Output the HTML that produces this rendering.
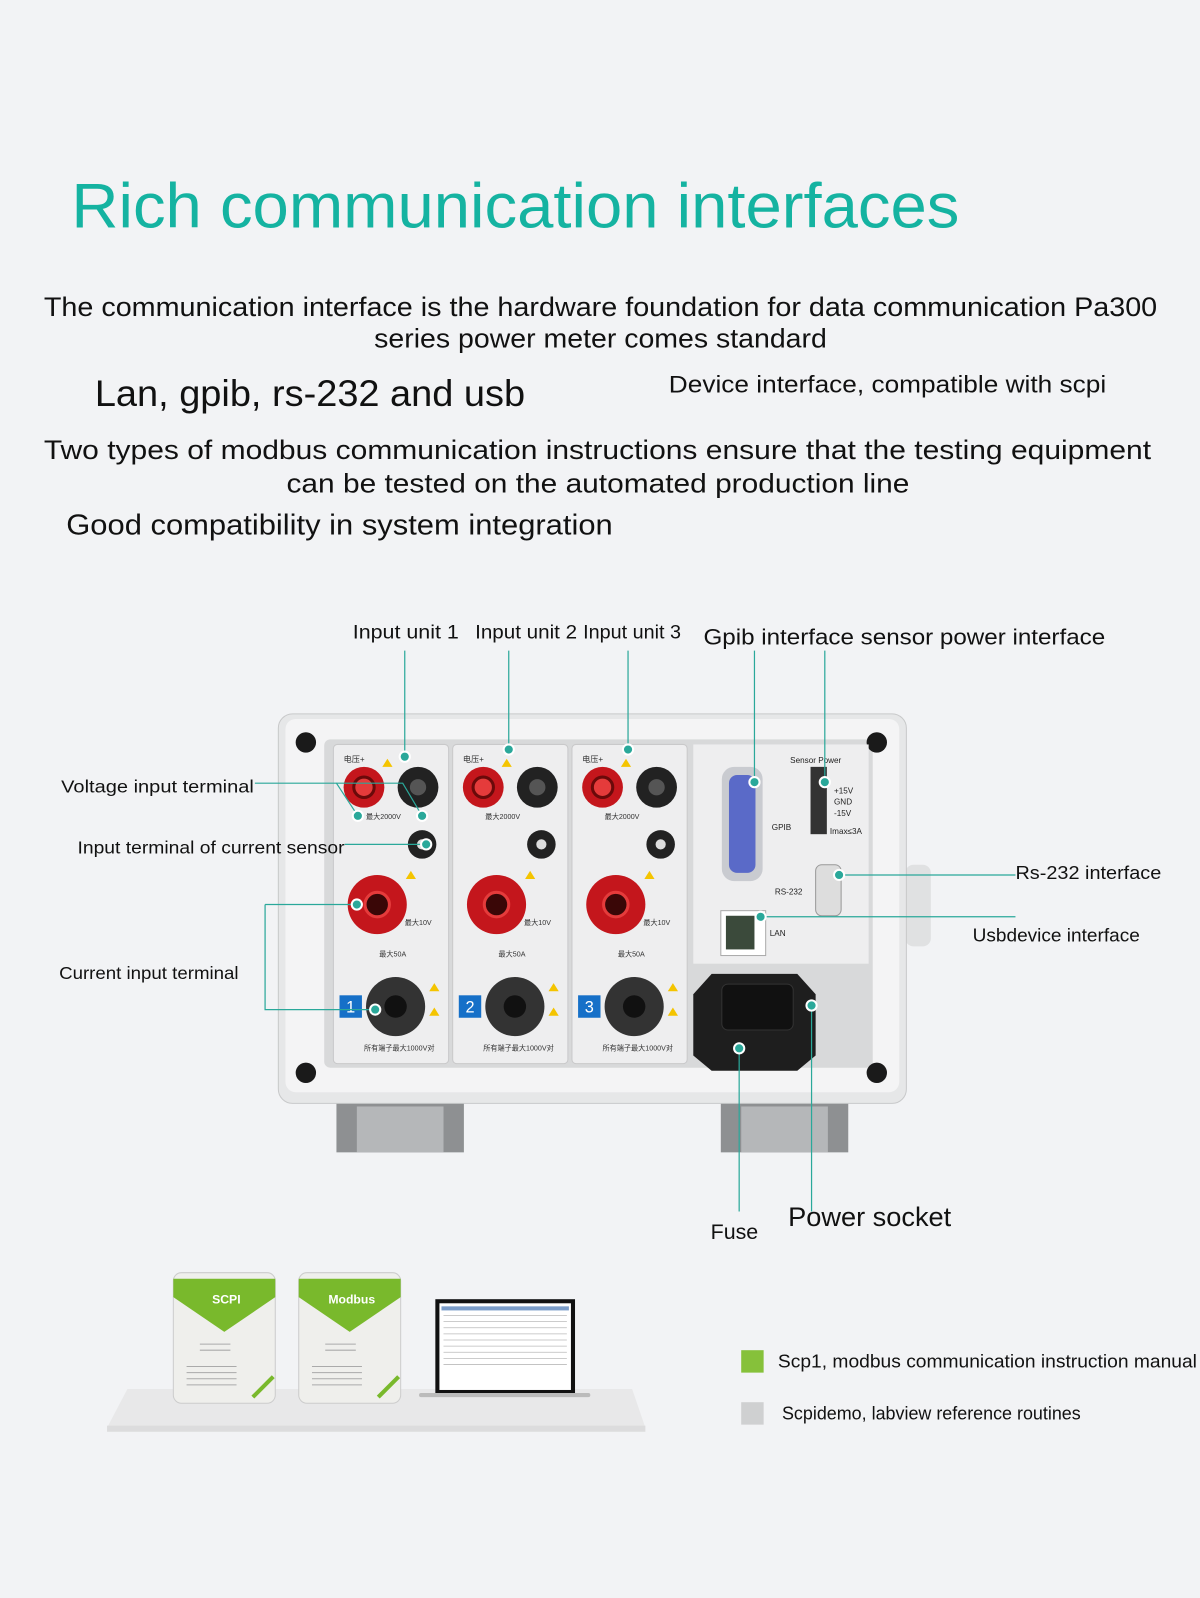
<!DOCTYPE html>
<html><head><meta charset="utf-8"><style>
html,body{margin:0;padding:0;background:#f2f3f5;}
svg{display:block;}
text{font-family:"Liberation Sans","Noto Sans CJK SC",sans-serif;}
</style></head><body>
<svg width="1200" height="1598" viewBox="0 0 1177 1567" preserveAspectRatio="none" xmlns="http://www.w3.org/2000/svg">
<rect width="1177" height="1567" fill="#f2f3f5"/>
<text x="70" y="223" font-size="62" fill="#15b3a1" textLength="871" lengthAdjust="spacingAndGlyphs">Rich communication interfaces</text>
<g font-size="26" fill="#111">
<text x="43" y="310" textLength="1092" lengthAdjust="spacingAndGlyphs">The communication interface is the hardware foundation for data communication Pa300</text>
<text x="367" y="341" textLength="444" lengthAdjust="spacingAndGlyphs">series power meter comes standard</text>
<text x="93" y="398" font-size="36" textLength="422" lengthAdjust="spacingAndGlyphs">Lan, gpib, rs-232 and usb</text>
<text x="656" y="385" font-size="24" textLength="429" lengthAdjust="spacingAndGlyphs">Device interface, compatible with scpi</text>
<text x="43" y="450" textLength="1086" lengthAdjust="spacingAndGlyphs">Two types of modbus communication instructions ensure that the testing equipment</text>
<text x="281" y="483" textLength="611" lengthAdjust="spacingAndGlyphs">can be tested on the automated production line</text>
<text x="65" y="524" font-size="28" textLength="536" lengthAdjust="spacingAndGlyphs">Good compatibility in system integration</text>
</g>
<!-- device -->
<rect x="330" y="1075" width="125" height="55" fill="#8e9092"/>
<rect x="350" y="1085" width="85" height="45" fill="#b5b7b9"/>
<rect x="707" y="1075" width="125" height="55" fill="#8e9092"/>
<rect x="727" y="1085" width="85" height="45" fill="#b5b7b9"/>
<rect x="888" y="848" width="25" height="80" rx="8" fill="#e0e1e2"/>
<rect x="273" y="700" width="616" height="382" rx="14" fill="#e6e7e8" stroke="#c8c9ca"/>
<rect x="280" y="705" width="602" height="366" rx="10" fill="#f4f4f5"/>
<rect x="318" y="725" width="538" height="322" rx="6" fill="#d8d9da"/>
<g fill="#1a1a1a"><circle cx="300" cy="728" r="10"/><circle cx="860" cy="728" r="10"/><circle cx="300" cy="1052" r="10"/><circle cx="860" cy="1052" r="10"/></g>
<g id="u">
<rect x="327" y="730" width="113" height="313" rx="4" fill="#eeeeef" stroke="#c9c9ca"/>
<text x="337" y="747" font-size="8" fill="#333">电压+</text>
<circle cx="357" cy="772" r="20" fill="#c4161c"/><circle cx="357" cy="772" r="10" fill="#e53b3b" stroke="#6a0a0a" stroke-width="3"/>
<circle cx="410" cy="772" r="20" fill="#222"/><circle cx="410" cy="772" r="8" fill="#555"/>
<circle cx="414" cy="828" r="14" fill="#222"/><circle cx="414" cy="828" r="5" fill="#ddd"/>
<circle cx="370" cy="887" r="29" fill="#c4161c"/><circle cx="370" cy="887" r="12" fill="#3a0707" stroke="#e53b3b" stroke-width="3"/>
<circle cx="388" cy="987" r="29" fill="#333"/><circle cx="388" cy="987" r="11" fill="#111"/>
<text x="359" y="803" font-size="7" fill="#333">最大2000V</text>
<text x="372" y="938" font-size="7" fill="#333">最大50A</text>
<text x="397" y="907" font-size="7" fill="#333">最大10V</text>
<text x="357" y="1030" font-size="7" fill="#333">所有端子最大1000V对</text>
<polygon points="385,752 375,752 380,744" fill="#f4c400"/>
<polygon points="408,862 398,862 403,854" fill="#f4c400"/>
<polygon points="431,972 421,972 426,964" fill="#f4c400"/>
<polygon points="431,996 421,996 426,988" fill="#f4c400"/>
</g>
<use href="#u" x="117"/><use href="#u" x="234"/>
<rect x="333" y="976" width="22" height="22" fill="#1670c8"/><text x="344" y="993" font-size="16" fill="#fff" text-anchor="middle">1</text>
<rect x="450" y="976" width="22" height="22" fill="#1670c8"/><text x="461" y="993" font-size="16" fill="#fff" text-anchor="middle">2</text>
<rect x="567" y="976" width="22" height="22" fill="#1670c8"/><text x="578" y="993" font-size="16" fill="#fff" text-anchor="middle">3</text>
<rect x="680" y="730" width="172" height="215" fill="#eeeeef"/>
<rect x="708" y="752" width="40" height="112" rx="12" fill="#c9cbd0"/><rect x="715" y="760" width="26" height="96" rx="8" fill="#5a6ac8"/>
<text x="757" y="814" font-size="8" fill="#222">GPIB</text>
<text x="775" y="748" font-size="8" fill="#222">Sensor Power</text>
<rect x="795" y="752" width="16" height="66" fill="#333"/>
<text x="818" y="778" font-size="8" fill="#222">+15V</text><text x="818" y="789" font-size="8" fill="#222">GND</text><text x="818" y="800" font-size="8" fill="#222">-15V</text><text x="814" y="818" font-size="8" fill="#222">Imax≤3A</text>
<rect x="800" y="848" width="25" height="50" rx="6" fill="#ddd" stroke="#999"/>
<text x="760" y="877" font-size="8" fill="#222">RS-232</text>
<rect x="707" y="893" width="44" height="44" fill="#fff" stroke="#aaa"/><rect x="712" y="898" width="28" height="33" fill="#3b4a3b"/>
<text x="755" y="918" font-size="8" fill="#222">LAN</text>
<polygon points="698,955 782,955 800,975 800,1035 782,1050 698,1050 680,1035 680,975" fill="#1e1e1e"/>
<rect x="708" y="965" width="70" height="45" rx="6" fill="#111" stroke="#333"/>
<!-- labels -->
<g font-size="19" fill="#111">
<text x="346" y="626" textLength="104" lengthAdjust="spacingAndGlyphs">Input unit 1</text>
<text x="466" y="626" textLength="100" lengthAdjust="spacingAndGlyphs">Input unit 2</text>
<text x="572" y="626" textLength="96" lengthAdjust="spacingAndGlyphs">Input unit 3</text>
<text x="690" y="632" font-size="22" textLength="394" lengthAdjust="spacingAndGlyphs">Gpib interface sensor power interface</text>
<text x="60" y="777" font-size="17" textLength="189" lengthAdjust="spacingAndGlyphs">Voltage input terminal</text>
<text x="76" y="837" font-size="17" textLength="262" lengthAdjust="spacingAndGlyphs">Input terminal of current sensor</text>
<text x="58" y="960" font-size="17" textLength="176" lengthAdjust="spacingAndGlyphs">Current input terminal</text>
<text x="996" y="862" font-size="18" textLength="143" lengthAdjust="spacingAndGlyphs">Rs-232 interface</text>
<text x="954" y="923" font-size="18" textLength="164" lengthAdjust="spacingAndGlyphs">Usbdevice interface</text>
<text x="697" y="1215" font-size="21">Fuse</text>
<text x="773" y="1202" font-size="26" textLength="160" lengthAdjust="spacingAndGlyphs">Power socket</text>
</g>
<!-- connectors -->
<g stroke="#2aa89a" stroke-width="1.2" fill="none">
<path d="M397 638V742"/><path d="M499 638V735"/><path d="M616 638V735"/><path d="M740 638V767"/><path d="M809 638V767"/>
<path d="M250 768H330L351 800"/><path d="M330 768H395L414 800"/>
<path d="M338 828H418"/>
<path d="M260 887H350"/><path d="M260 887V990H368"/>
<path d="M823 858H996"/><path d="M746 899H996"/>
<path d="M725 1028V1188"/><path d="M796 986V1188"/>
</g>
<g fill="#2aa89a" stroke="#fff" stroke-width="2">
<circle cx="397" cy="742" r="5"/><circle cx="499" cy="735" r="5"/><circle cx="616" cy="735" r="5"/><circle cx="740" cy="767" r="5"/><circle cx="809" cy="767" r="5"/>
<circle cx="351" cy="800" r="5"/><circle cx="414" cy="800" r="5"/><circle cx="418" cy="828" r="5"/><circle cx="350" cy="887" r="5"/><circle cx="368" cy="990" r="5"/>
<circle cx="823" cy="858" r="5"/><circle cx="746" cy="899" r="5"/><circle cx="725" cy="1028" r="5"/><circle cx="796" cy="986" r="5"/>
</g>
<!-- shelf -->
<polygon points="125,1362 620,1362 633,1400 105,1400" fill="#e8e8e9"/>
<rect x="105" y="1398" width="528" height="6" fill="#dcdcdd"/>
<g id="d"><rect x="170" y="1248" width="100" height="128" rx="8" fill="#efefec" stroke="#ccc"/>
<polygon points="170,1254 270,1254 270,1272 220,1306 170,1272" fill="#79b92c"/>
<g stroke="#aaa"><path d="M183 1340H232M183 1346H232M183 1352H232M183 1358H232M196 1318H226M196 1324H226"/></g>
<path d="M248 1370L268 1350" stroke="#79b92c" stroke-width="4"/></g>
<use href="#d" x="123"/>
<text x="222" y="1278" font-size="12" font-weight="bold" fill="#fff" text-anchor="middle">SCPI</text>
<text x="345" y="1278" font-size="12" font-weight="bold" fill="#fff" text-anchor="middle">Modbus</text>
<rect x="427" y="1274" width="137" height="93" fill="#111"/><rect x="431" y="1278" width="129" height="85" fill="#fff"/>
<rect x="433" y="1281" width="125" height="4" fill="#7a9cc8"/>
<g stroke="#bbb" stroke-width="0.8"><path d="M435 1290H556M435 1296H556M435 1302H556M435 1308H556M435 1314H556M435 1320H556M435 1326H556M435 1332H556M435 1338H556"/></g>
<rect x="411" y="1366" width="168" height="4" rx="2" fill="#bbb"/>
<rect x="727" y="1324" width="22" height="22" fill="#86c13a"/>
<text x="763" y="1341" font-size="18" fill="#111" textLength="411" lengthAdjust="spacingAndGlyphs">Scp1, modbus communication instruction manual</text>
<rect x="727" y="1375" width="22" height="22" fill="#cfd0d1"/>
<text x="767" y="1392" font-size="18" fill="#111" textLength="293" lengthAdjust="spacingAndGlyphs">Scpidemo, labview reference routines</text>
</svg>
</body></html>
